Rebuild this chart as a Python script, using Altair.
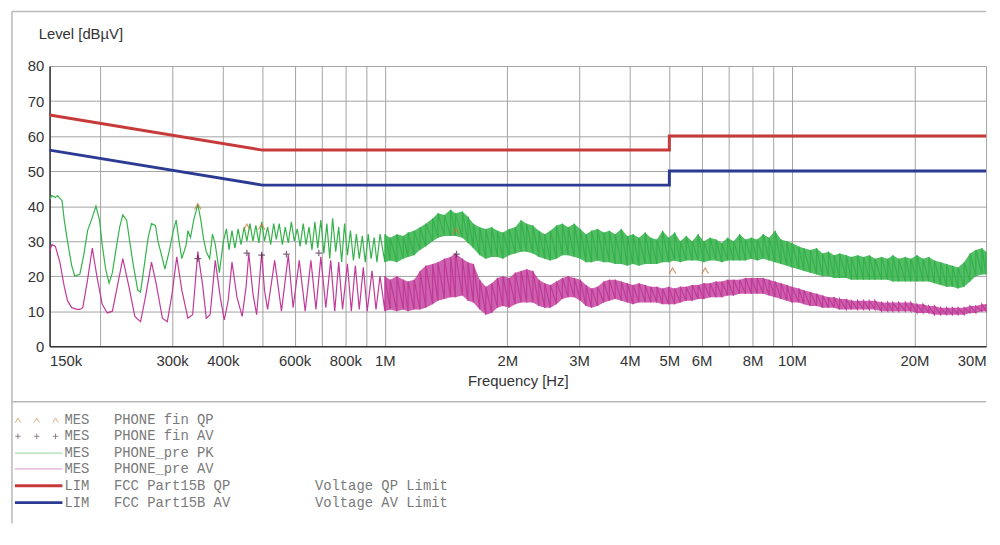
import altair as alt
import pandas as pd

# ---------------- data (frequencies in MHz, levels in dBuV) ----------------
FREQ_GRID = [0.15, 0.2, 0.3, 0.4, 0.5, 0.6, 0.7, 0.8, 0.9,
             1, 2, 3, 4, 5, 6, 7, 8, 9, 10, 20, 30]
FREQ_LABEL_VALUES = [0.15, 0.3, 0.4, 0.6, 0.8, 1, 2, 3, 4, 5, 6, 8, 10, 20, 30]
FREQ_LABELS = ["150k", "300k", "400k", "600k", "800k", "1M", "2M", "3M", "4M",
               "5M", "6M", "8M", "10M", "20M", "30M"]
LEVEL_TICKS = [0, 10, 20, 30, 40, 50, 60, 70, 80]

QP_LIMIT_F = [0.15, 0.5, 5, 5, 30]
QP_LIMIT_V = [66, 56, 56, 60, 60]
AV_LIMIT_F = [0.15, 0.5, 5, 5, 30]
AV_LIMIT_V = [56, 46, 46, 50, 50]

# PHONE_pre PK (green) - resolved part below 1 MHz
PK_LOW_F = [0.150, 0.152, 0.155, 0.157, 0.161, 0.163, 0.166, 0.170, 0.173, 0.178,
            0.182, 0.186, 0.190, 0.195, 0.199, 0.202, 0.206, 0.210, 0.214, 0.218,
            0.223, 0.227, 0.232, 0.236, 0.241, 0.247, 0.251, 0.257, 0.262, 0.267,
            0.273, 0.277, 0.284, 0.288, 0.295, 0.302, 0.307, 0.312, 0.317, 0.325,
            0.328, 0.333, 0.339, 0.347, 0.353, 0.358, 0.364, 0.371, 0.377, 0.383,
            0.392, 0.401, 0.408, 0.414, 0.421, 0.428, 0.436, 0.443, 0.451, 0.458,
            0.466, 0.474, 0.482, 0.490, 0.498, 0.506, 0.515, 0.524, 0.533, 0.541,
            0.550, 0.560, 0.569, 0.579, 0.589, 0.599, 0.609, 0.619, 0.630, 0.640,
            0.651, 0.662, 0.673, 0.684, 0.696, 0.708, 0.720, 0.732, 0.744, 0.757,
            0.770, 0.783, 0.796, 0.809, 0.823, 0.837, 0.851, 0.865, 0.880, 0.895,
            0.910, 0.925, 0.941, 0.956, 0.973]
PK_LOW_V = [42, 43, 42.5, 43, 41.5, 36, 30, 23, 20, 20.5,
            26, 33, 36, 40, 36, 29, 22, 18, 21, 27,
            34, 37.5, 36, 30, 23, 16, 15.5, 24, 31, 35,
            34.5, 30, 25, 22, 27, 33, 36, 30, 25, 29,
            33, 31, 36, 40.5, 36, 31, 27, 25, 32, 29,
            21, 30, 33.5, 27.5, 33, 28, 33.5, 29, 34, 30,
            35, 30, 34.5, 29.5, 35.5, 30, 34, 29, 35, 30.5,
            35, 29, 34, 29.5, 35.5, 30, 33.5, 28.5, 35, 29,
            34, 27.5, 35.5, 28, 36, 26.5, 35, 25, 36.5, 27,
            34, 24, 35, 26, 33, 24.5, 32, 25, 31.5, 24,
            32, 25, 31, 24, 32]

# PHONE_pre AV (magenta) - resolved part below 1 MHz
AV_LOW_F = [0.150, 0.152, 0.155, 0.159, 0.163, 0.166, 0.170, 0.175, 0.178, 0.181,
            0.186, 0.191, 0.196, 0.202, 0.208, 0.214, 0.220, 0.227, 0.235, 0.243,
            0.251, 0.258, 0.267, 0.274, 0.284, 0.292, 0.300, 0.308, 0.317, 0.328,
            0.337, 0.347, 0.357, 0.364, 0.372, 0.383, 0.394, 0.403, 0.412, 0.421,
            0.433, 0.446, 0.456, 0.463, 0.474, 0.484, 0.498, 0.506, 0.515, 0.536,
            0.557, 0.579, 0.595, 0.616, 0.637, 0.658, 0.677, 0.696, 0.716, 0.736,
            0.753, 0.770, 0.787, 0.809, 0.827, 0.846, 0.865, 0.885, 0.905, 0.930,
            0.951, 0.973]
AV_LOW_V = [27, 29, 28.5, 24, 17, 13, 11, 10.5, 10.5, 11,
            19, 28, 20, 12, 9.5, 10, 17, 25, 17, 8.5,
            7, 14, 24, 18, 8, 7, 15, 25.5, 16, 8,
            9, 27, 17, 8, 9, 24.5, 14, 7.5, 13, 24,
            14, 8.5, 17, 26.5, 15, 9, 26.5, 16, 10.5, 24.5,
            10, 26, 11, 24.5, 10, 24.5, 10.5, 25.5, 11, 24.5,
            10, 24, 10.5, 23.5, 10, 23, 10.5, 22.5, 10, 21.5,
            10.5, 20]

# dense part above 1 MHz: lower / upper edge of the trace at each frequency
BAND_F = [1.00, 1.03, 1.07, 1.11, 1.14, 1.18, 1.22, 1.26, 1.31, 1.35,
          1.40, 1.45, 1.49, 1.55, 1.60, 1.65, 1.71, 1.77, 1.83, 1.89,
          1.95, 2.02, 2.09, 2.16, 2.23, 2.31, 2.39, 2.47, 2.55, 2.64,
          2.73, 2.82, 2.92, 3.02, 3.12, 3.22, 3.33, 3.45, 3.56, 3.68,
          3.81, 3.94, 4.07, 4.21, 4.36, 4.50, 4.66, 4.81, 4.98, 5.15,
          5.32, 5.50, 5.69, 5.88, 6.08, 6.29, 6.51, 6.73, 6.95, 7.19,
          7.44, 7.69, 7.95, 8.22, 8.50, 8.79, 9.09, 9.40, 9.72, 10.0,
          10.4, 10.7, 11.1, 11.5, 11.9, 12.3, 12.7, 13.1, 13.6, 14.0,
          14.5, 15.0, 15.5, 16.0, 16.6, 17.2, 17.7, 18.3, 19.0, 19.6,
          20.3, 21.0, 21.7, 22.4, 23.2, 24.0, 24.8, 25.6, 26.5, 27.4,
          28.3, 29.3, 30.0]
PK_HI = [32, 31, 32, 31.5, 32.5, 33, 34, 35, 36.5, 38,
         37.5, 39, 38, 38.5, 37, 35, 34, 33.5, 34, 33,
         32.5, 33.5, 34, 36, 35, 34.5, 33, 32, 33, 34.5,
         35, 34, 35, 33.5, 32, 33, 33.5, 32.5, 33, 32,
         33.5, 31.5, 32, 31, 32.5, 31, 30.5, 33, 31, 32.5,
         30, 31.5, 30, 32, 30, 31, 30.5, 29.5, 31, 30,
         32, 30.5, 31, 30.5, 32, 31, 33, 30.5, 30, 29.5,
         28.5, 28, 27.5, 28, 26.5, 27, 26, 26.5, 26, 25.5,
         26, 25.5, 26, 25, 25.5, 25, 26, 25, 25.5, 25,
         26, 25, 25.5, 24.5, 24, 23.5, 23, 22.5, 24, 26.5,
         27.5, 28, 27]
PK_LO = [24, 24.5, 24, 25, 25.5, 26, 27.5, 28.5, 30, 31,
         31.5, 31.5, 31.5, 31, 29.5, 28, 26, 25, 25.5, 25.5,
         25, 26, 26.5, 27, 27, 26.5, 25.5, 25, 24.5, 25,
         26, 26, 25.5, 25, 24, 24, 24.5, 24, 24, 23.5,
         23.5, 23, 23.5, 23, 23.5, 23.5, 23.5, 24, 24, 24.5,
         24, 24.5, 24.5, 24.5, 24, 24.5, 24.5, 24, 24.5, 24.5,
         24.5, 24.5, 25, 24.5, 25, 24.5, 24, 23.5, 23, 22.5,
         22, 21.5, 21, 20.5, 20, 20, 19.5, 19.5, 19.5, 19,
         19, 19, 19, 19, 19, 19, 18.5, 18.5, 18.5, 18.5,
         18.5, 18.5, 18.5, 18, 17.5, 17, 17, 16.5, 17, 18.5,
         20, 20.5, 20.5]
AV_HI = [20, 19, 20, 19, 18.5, 19, 21.5, 23, 23.5, 24,
         25, 25.5, 26.5, 25, 24, 23.5, 19, 17, 18, 19.5,
         20, 19.5, 21, 21.5, 22, 21.5, 19, 18, 17.5, 18.5,
         19.5, 20, 19.5, 19, 17.5, 16.5, 17, 18.5, 19, 19,
         18.5, 18, 17.5, 18, 17.5, 17, 17, 16.5, 17, 16.5,
         17, 17, 17.5, 17.5, 18, 18, 18.5, 18.5, 19, 19,
         19, 19.5, 19.5, 19.5, 19.5, 19, 18.5, 18, 17.5, 17,
         16.5, 16, 15.5, 15, 14.5, 14, 14, 13.5, 13.5, 13,
         13, 13, 13, 13, 12.5, 12.5, 12.5, 12.5, 12.5, 12.5,
         12, 12, 11.5, 11.5, 11, 11, 11, 11, 11, 11.5,
         11.5, 12, 12]
AV_LO = [10, 10.5, 10, 10.5, 10, 10.5, 10.5, 11, 12, 13,
         13.5, 14, 14, 14.5, 13, 12.5, 10.5, 9, 9.5, 11,
         11.5, 11, 12, 12.5, 12.5, 12.5, 11.5, 11, 11, 12,
         13.5, 14, 14, 13, 11.5, 11, 11.5, 12.5, 13, 13.5,
         13, 12.5, 12, 12.5, 12.5, 12.5, 12.5, 12, 12, 12,
         12.5, 13, 13, 13.5, 13.5, 14, 14, 14, 14.5, 14.5,
         15, 15, 15, 15, 15, 14.5, 14, 13.5, 13, 12.5,
         12.5, 12, 11.5, 11.5, 11, 11, 11, 10.5, 10.5, 10.5,
         10.5, 10.5, 10.5, 10.5, 10, 10, 10, 10, 10, 10,
         9.5, 9.5, 9.5, 9, 9, 9, 9, 9, 9, 9.5,
         9.5, 10, 10]

# final measurements
FIN_QP_F = [0.347, 0.458, 0.498, 1.494, 5.09, 6.12]
FIN_QP_V = [39.8, 34, 34, 32.8, 21.5, 21.5]
FIN_AV_F = [0.347, 0.458, 0.498, 0.573, 0.688, 1.50]
FIN_AV_V = [25, 26.6, 26, 26.3, 26.6, 26.3]

LEGEND_KIND = ["MES", "MES", "MES", "MES", "LIM", "LIM"]
LEGEND_NAME = ["PHONE fin QP", "PHONE fin AV", "PHONE_pre PK", "PHONE_pre AV",
               "FCC Part15B QP", "FCC Part15B AV"]
LEGEND_DESC = ["", "", "", "", "Voltage QP Limit", "Voltage AV Limit"]

# ---------------- styles ----------------
W, H = 946, 283
SANS = "Liberation Sans"
MONO = "Liberation Mono"
GRID = "#a3a3a3"
PK_COLOR = "#34b24a"
AV_COLOR = "#c03a98"
QP_LIM_COLOR = "#c83a3a"
AV_LIM_COLOR = "#2b3a92"
QP_MARK_COLOR = "#c77a3c"
AV_MARK_COLOR = "#4a2a45"
FRAME = "#b8b8b8"
QP_SHAPE = "M-1,0.8L0,-0.9L1,0.8"
PLUS_SHAPE = "M-1,0L1,0M0,-1L0,1"

# ---------------- tables ----------------
def trace_df(low_f, low_v, lo, hi):
    f = list(low_f)
    v = list(low_v)
    for bf, l, h in zip(BAND_F, lo, hi):
        f += [bf, bf]
        v += [l, h]
    return pd.DataFrame({"f": f, "v": v, "i": list(range(len(f)))})

pk_df = trace_df(PK_LOW_F, PK_LOW_V, PK_LO, PK_HI)
av_df = trace_df(AV_LOW_F, AV_LOW_V, AV_LO, AV_HI)
band_df = pd.DataFrame({"f": BAND_F, "pk_lo": PK_LO, "pk_hi": PK_HI,
                        "av_lo": AV_LO, "av_hi": AV_HI})
qp_lim_df = pd.DataFrame({"f": QP_LIMIT_F, "v": QP_LIMIT_V, "i": range(len(QP_LIMIT_F))})
av_lim_df = pd.DataFrame({"f": AV_LIMIT_F, "v": AV_LIMIT_V, "i": range(len(AV_LIMIT_F))})
fin_qp_df = pd.DataFrame({"f": FIN_QP_F, "v": FIN_QP_V})
fin_av_df = pd.DataFrame({"f": FIN_AV_F, "v": FIN_AV_V})

# ---------------- scales / axes ----------------
x_scale = alt.Scale(type="log", domain=[0.15, 30], nice=False)
y_scale = alt.Scale(domain=[0, 80], nice=False)
label_expr = " : ".join(f"datum.value == {v} ? '{t}'"
                        for v, t in zip(FREQ_LABEL_VALUES, FREQ_LABELS)) + " : ''"
x_axis = alt.Axis(values=FREQ_GRID, labelExpr=label_expr, grid=True, gridColor=GRID,
                  gridWidth=1, ticks=False, domainColor="#333333", domainWidth=1.5,
                  labelFont=SANS, labelFontSize=15, labelColor="#333333",
                  labelPadding=7, labelFlush=True, labelOverlap=False,
                  title="Frequency [Hz]", titleFont=SANS, titleFontSize=15,
                  titleFontWeight="normal", titleColor="#333333", titlePadding=6)
y_axis = alt.Axis(values=LEVEL_TICKS, grid=True, gridColor=GRID, gridWidth=1,
                  ticks=False, domainColor="#333333", domainWidth=1.5,
                  labelFont=SANS, labelFontSize=15, labelColor="#333333",
                  labelPadding=6, title=None)

def X():
    return alt.X("f:Q", scale=x_scale, axis=x_axis)

def Y(field):
    return alt.Y(field, scale=y_scale, axis=y_axis)

layers = []

# trace bands (fill between edges) and traces
layers.append(alt.Chart(band_df).mark_area(color=PK_COLOR, opacity=0.85).encode(
    x=X(), y=Y("pk_lo:Q"), y2="pk_hi:Q"))
layers.append(alt.Chart(band_df).mark_area(color=AV_COLOR, opacity=0.8).encode(
    x=X(), y=Y("av_lo:Q"), y2="av_hi:Q"))
layers.append(alt.Chart(pk_df).mark_line(color=PK_COLOR, strokeWidth=1.2).encode(
    x=X(), y=Y("v:Q"), order="i:Q"))
layers.append(alt.Chart(av_df).mark_line(color=AV_COLOR, strokeWidth=1.2).encode(
    x=X(), y=Y("v:Q"), order="i:Q"))

# final measurement markers
layers.append(alt.Chart(fin_qp_df).mark_point(shape=QP_SHAPE, filled=False, color=QP_MARK_COLOR,
                                              size=45, strokeWidth=1.3).encode(x=X(), y=Y("v:Q")))
layers.append(alt.Chart(fin_av_df).mark_point(shape=PLUS_SHAPE, filled=False, color=AV_MARK_COLOR,
                                              size=45, strokeWidth=1.3).encode(x=X(), y=Y("v:Q")))

# limit lines
layers.append(alt.Chart(qp_lim_df).mark_line(color=QP_LIM_COLOR, strokeWidth=3).encode(
    x=X(), y=Y("v:Q"), order="i:Q"))
layers.append(alt.Chart(av_lim_df).mark_line(color=AV_LIM_COLOR, strokeWidth=3).encode(
    x=X(), y=Y("v:Q"), order="i:Q"))

# decorations (frame, y title, legend)
one = pd.DataFrame({"k": [0]})
FRAME_L, FRAME_T, FRAME_B, DIVIDER = -38, -55, 462, 339
layers.append(alt.Chart(one).mark_rule(color=FRAME, strokeWidth=1.5).encode(
    x=alt.value(FRAME_L), x2=alt.value(W), y=alt.value(FRAME_T)))
layers.append(alt.Chart(one).mark_rule(color=FRAME, strokeWidth=1.5).encode(
    x=alt.value(FRAME_L), y=alt.value(FRAME_T), y2=alt.value(FRAME_B)))
layers.append(alt.Chart(one).mark_rule(color=FRAME, strokeWidth=1.5).encode(
    x=alt.value(FRAME_L), x2=alt.value(W), y=alt.value(DIVIDER)))
layers.append(alt.Chart(one).mark_text(text="Level [dB\u00b5V]", align="left", baseline="middle",
                                       font=SANS, fontSize=15, color="#333333").encode(
    x=alt.value(-11), y=alt.value(-32)))

ROW_Y = [358, 374, 391, 407, 424, 441]
LEG_TXT = "#7a7a7a"
for r in range(6):
    ry = ROW_Y[r]
    if r == 0 or r == 1:
        shp, col = (QP_SHAPE, QP_MARK_COLOR) if r == 0 else (PLUS_SHAPE, AV_MARK_COLOR)
        for sx in (-32, -13, 6):
            layers.append(alt.Chart(one).mark_point(shape=shp, filled=False, color=col, opacity=0.6,
                                                    size=30, strokeWidth=1).encode(
                x=alt.value(sx), y=alt.value(ry)))
    else:
        col = [None, None, PK_COLOR, AV_COLOR, QP_LIM_COLOR, AV_LIM_COLOR][r]
        sw = 1 if r < 4 else 3
        op = 0.55 if r < 4 else 1
        layers.append(alt.Chart(one).mark_rule(color=col, strokeWidth=sw, opacity=op).encode(
            x=alt.value(-35), x2=alt.value(13), y=alt.value(ry)))
    layers.append(alt.Chart(one).mark_text(text=LEGEND_KIND[r], align="left", baseline="middle",
                                           font=MONO, fontSize=14, color=LEG_TXT).encode(
        x=alt.value(15), y=alt.value(ry)))
    layers.append(alt.Chart(one).mark_text(text=LEGEND_NAME[r], align="left", baseline="middle",
                                           font=MONO, fontSize=14, color=LEG_TXT).encode(
        x=alt.value(65), y=alt.value(ry)))
    if LEGEND_DESC[r]:
        layers.append(alt.Chart(one).mark_text(text=LEGEND_DESC[r], align="left", baseline="middle",
                                               font=MONO, fontSize=14, color=LEG_TXT).encode(
            x=alt.value(268), y=alt.value(ry)))

chart = alt.layer(*layers).properties(
    width=W, height=H,
    padding={"left": 3, "top": 0, "right": 0, "bottom": 0},
    background="white",
).configure_view(stroke="transparent")

chart.save("out.html", embed_options={"renderer": "svg", "actions": False})
